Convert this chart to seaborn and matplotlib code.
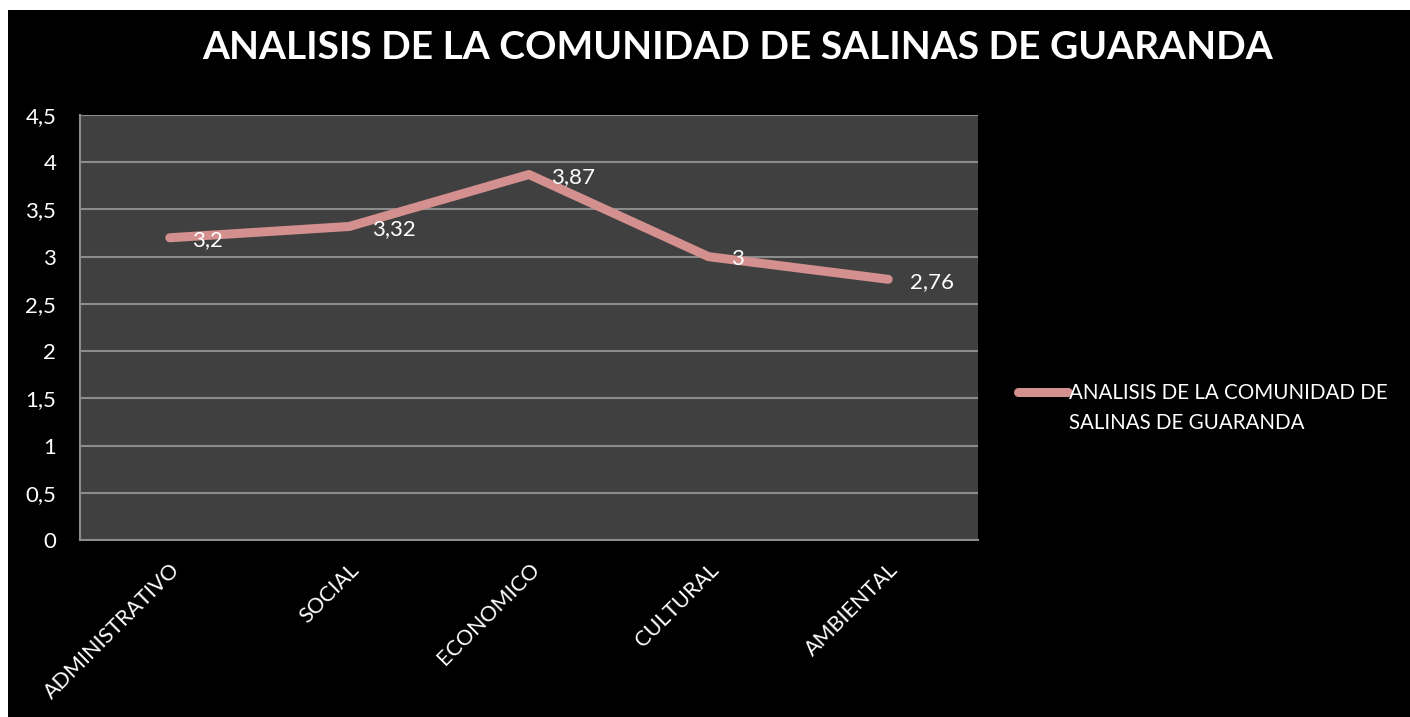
import pandas as pd
import seaborn as sns
import matplotlib.pyplot as plt
from matplotlib.patches import Rectangle

categories = ["ADMINISTRATIVO", "SOCIAL", "ECONOMICO", "CULTURAL", "AMBIENTAL"]
values = [3.2, 3.32, 3.87, 3.0, 2.76]
value_labels = ["3,2", "3,32", "3,87", "3", "2,76"]
y_ticks = [0, 0.5, 1, 1.5, 2, 2.5, 3, 3.5, 4, 4.5]
y_tick_labels = ["0", "0,5", "1", "1,5", "2", "2,5", "3", "3,5", "4", "4,5"]
series_name = "ANALISIS DE LA COMUNIDAD DE SALINAS DE GUARANDA"

df = pd.DataFrame({"Categoria": categories, "Valor": values})

sns.set_style("dark")
plt.rcParams["font.family"] = ["Lato", "DejaVu Sans"]

line_color = "#D4908F"
grid_color = "#8C8C8C"

fig = plt.figure(figsize=(14.1, 7.17), dpi=100, facecolor="white")
# black chart area; the original image has a thin white strip top and left
fig.patches.append(Rectangle((8 / 1410, 0), 1, 1 - 10 / 717, transform=fig.transFigure,
                             facecolor="black", edgecolor="none", zorder=-10))

ax = fig.add_axes([0.0567, 0.2469, 0.6369, 0.5927])
ax.set_facecolor("#404040")

sns.lineplot(data=df, x="Categoria", y="Valor", ax=ax, color=line_color,
             linewidth=6.5, solid_capstyle="round", sort=False,
             label="ANALISIS DE LA COMUNIDAD DE\nSALINAS DE GUARANDA")

# data labels to the right of each point
for i, (v, txt) in enumerate(zip(values, value_labels)):
    ax.annotate(txt, (i, v), xytext=(16, -2), textcoords="offset points",
                ha="left", va="center", color="white", fontsize=16)

ax.set_xlim(-0.5, len(categories) - 0.5)
ax.set_ylim(0, 4.5)
ax.set_yticks(y_ticks)
ax.set_yticklabels(y_tick_labels)
ax.set_xticks(range(len(categories)))
ax.set_xticklabels(categories, rotation=45, ha="right", rotation_mode="anchor")
ax.tick_params(axis="both", colors="white", labelsize=16, length=0)
ax.tick_params(axis="x", labelsize=15.5, pad=14)
ax.tick_params(axis="y", pad=17)
ax.set_xlabel("")
ax.set_ylabel("")

ax.yaxis.grid(True, color=grid_color, linewidth=1.5)
ax.xaxis.grid(False)
for side in ["top", "right"]:
    ax.spines[side].set_visible(False)
for side in ["left", "bottom"]:
    ax.spines[side].set_visible(True)
    ax.spines[side].set_color(grid_color)
    ax.spines[side].set_linewidth(1.5)

leg = ax.legend(loc="center left", bbox_to_anchor=(1.024, 0.31), frameon=False,
                fontsize=14.8, handlelength=2.45, handletextpad=0.05, labelcolor="white")
leg.get_texts()[0].set_linespacing(1.6)
# put the legend line next to the first text line, like the original
h = leg.legend_handles[0]
h.set_ydata([y + 12 for y in h.get_ydata()])

fig.suptitle(series_name, color="white", fontsize=28, fontweight="bold", x=0.523, y=0.958)

fig.savefig("out.png", dpi=100, facecolor="white")
